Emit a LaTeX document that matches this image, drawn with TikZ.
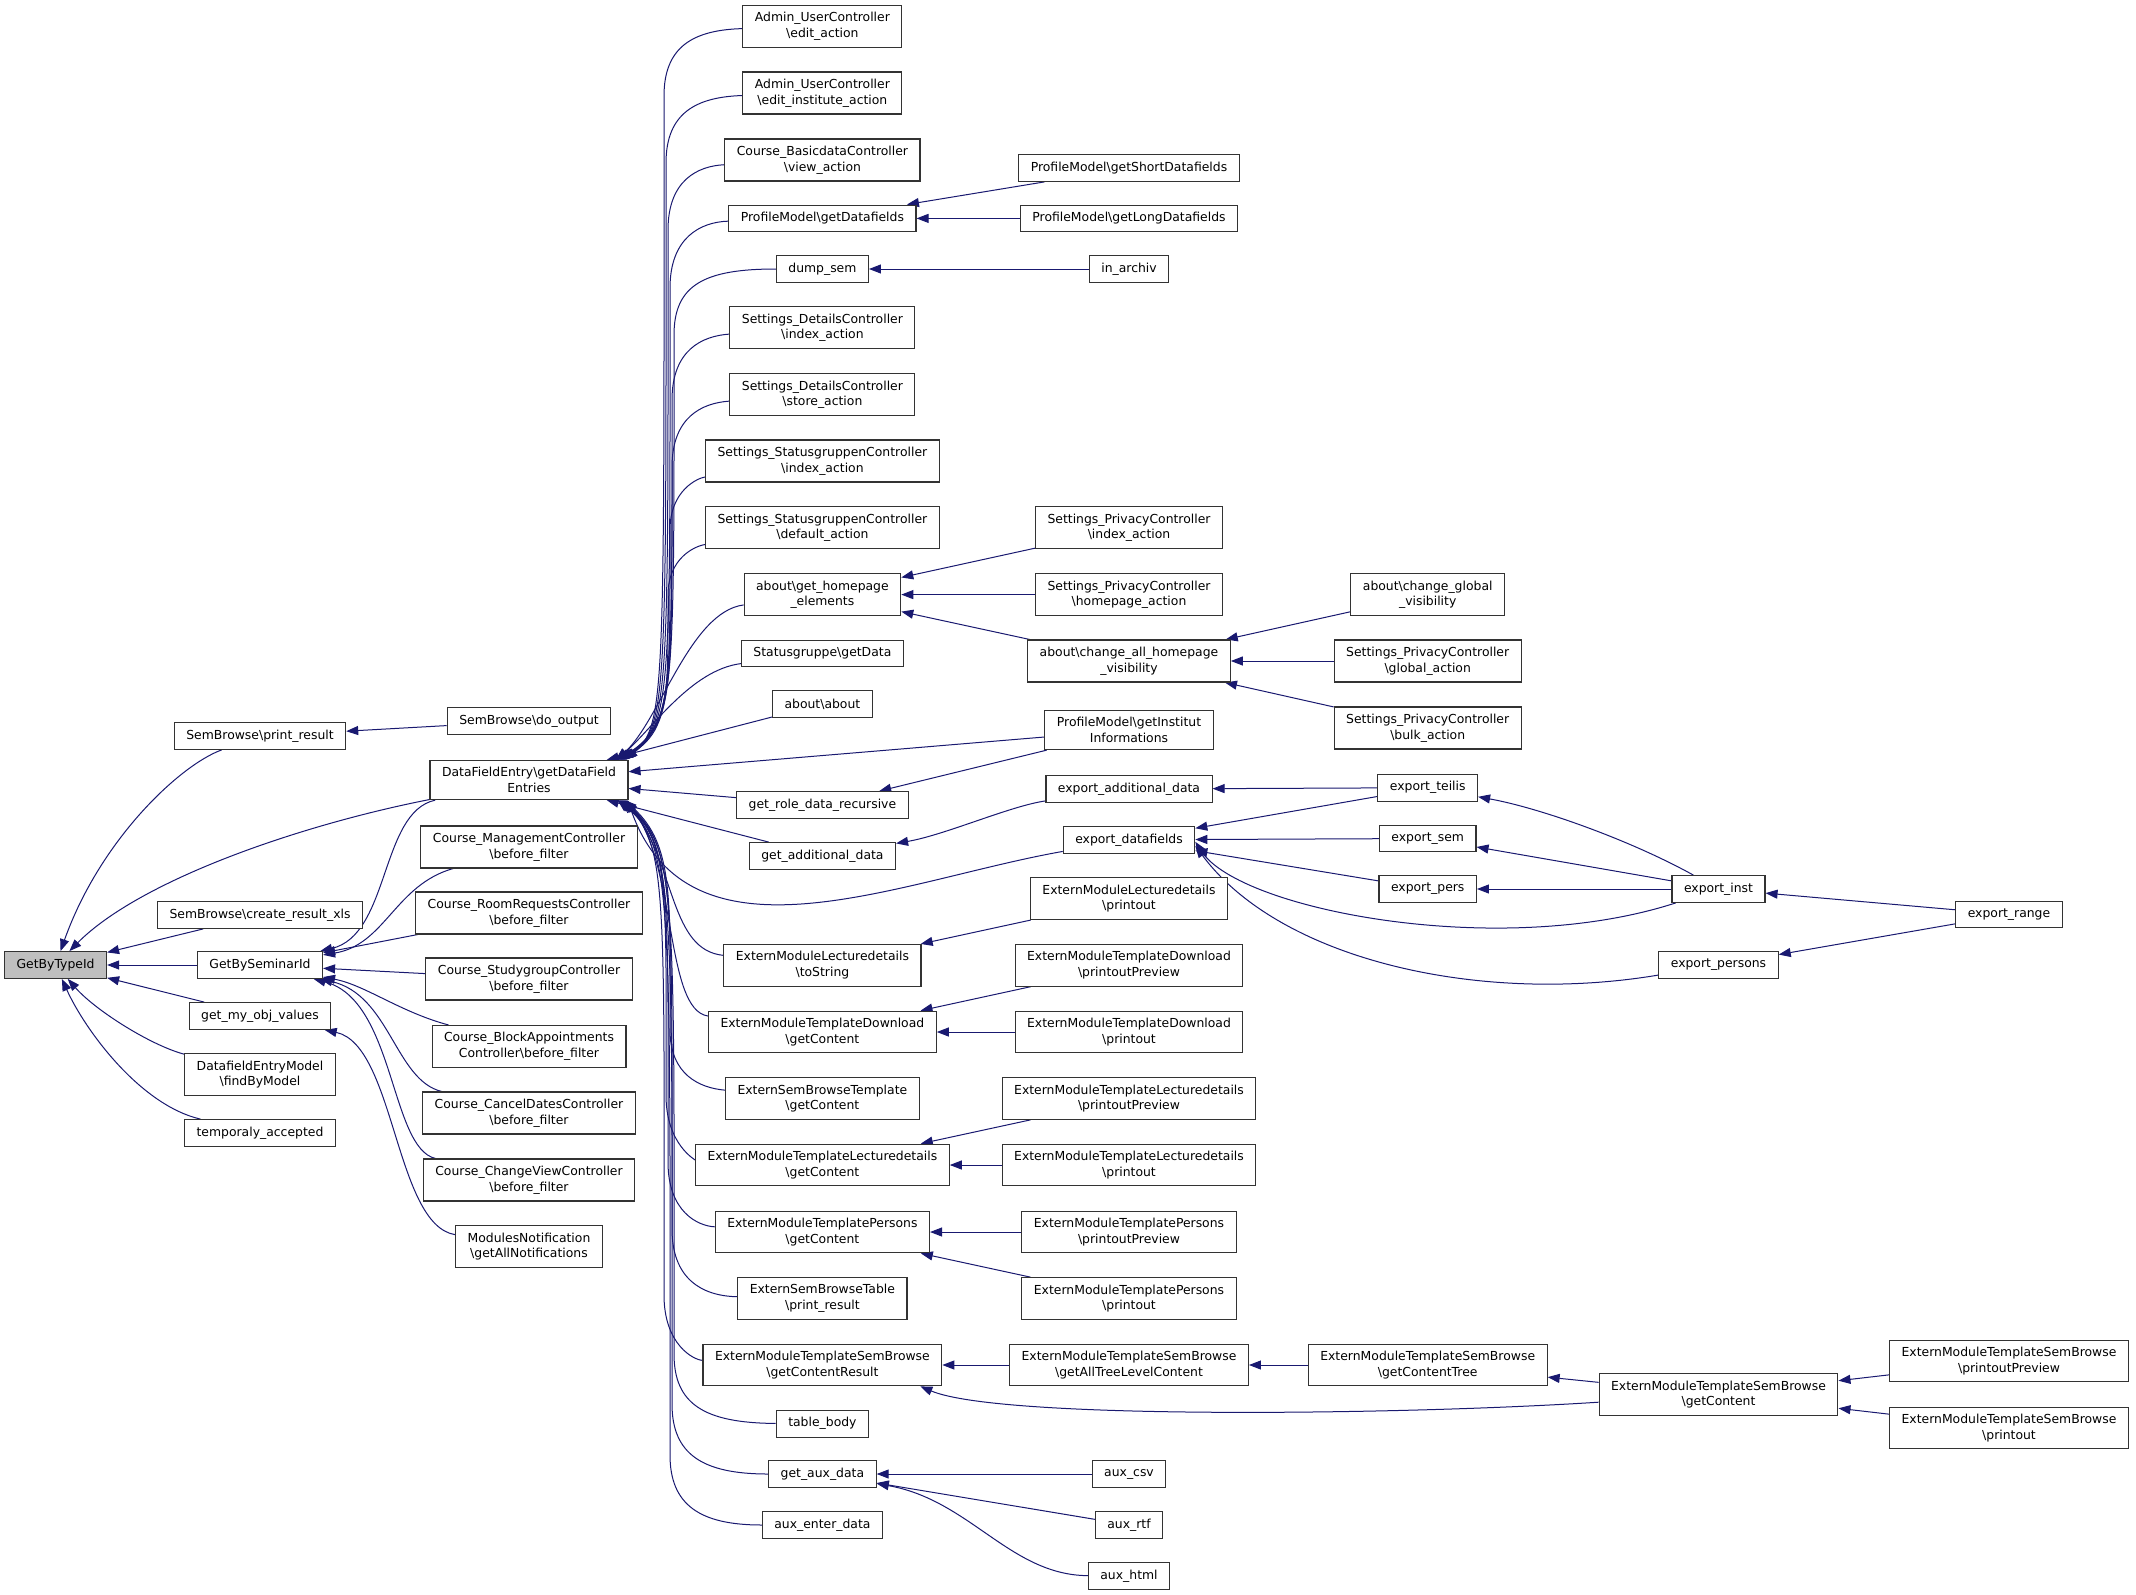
\documentclass[tikz,border=0pt]{standalone}
\usepackage{fontspec}
\setmainfont{DejaVu Sans}
\usetikzlibrary{arrows.meta,backgrounds}
\definecolor{edgeblue}{HTML}{191970}
\newcommand{\bsl}{\textbackslash}

\begin{document}
\begin{tikzpicture}[x=1pt,y=-1pt,>={Triangle[length=12pt,width=9pt]},
func node/.style={draw=black!80,fill=white,line width=1.1pt,inner xsep=12pt,inner ysep=7pt,
  minimum height=26.7pt,align=center,font=\fontsize{12.4}{15.6}\selectfont},
start node/.style={func node,fill=black!25},
call/.style={->,draw=edgeblue,line width=1pt},
every edge/.style={call}]

%Callee
\node[start node] (gettype) at (55.6,965) {GetByTypeId};

%Level 1
\node[func node] (printres) at (260,736) {SemBrowse\bsl print\_result};
\node[func node] (xls) at (260,915) {SemBrowse\bsl create\_result\_xls};
\node[func node] (seminar) at (260,965) {GetBySeminarId};
\node[func node] (objval) at (260,1016) {get\_my\_obj\_values};
\node[func node] (findmodel) at (260,1074.5) {DatafieldEntryModel\\\bsl findByModel};
\node[func node] (tempacc) at (260,1133) {temporaly\_accepted};

%Level 2
\node[func node] (dooutput) at (529,721) {SemBrowse\bsl do\_output};
\node[func node] (dfe) at (529,780) {DataFieldEntry\bsl getDataField\\Entries};
\node[func node] (cmanage) at (529,847) {Course\_ManagementController\\\bsl before\_filter};
\node[func node] (croom) at (529,913) {Course\_RoomRequestsController\\\bsl before\_filter};
\node[func node] (cstudy) at (529,979) {Course\_StudygroupController\\\bsl before\_filter};
\node[func node] (cblock) at (529,1046.5) {Course\_BlockAppointments\\Controller\bsl before\_filter};
\node[func node] (ccancel) at (529,1113) {Course\_CancelDatesController\\\bsl before\_filter};
\node[func node] (cview) at (529,1180) {Course\_ChangeViewController\\\bsl before\_filter};
\node[func node] (modnote) at (529,1246.5) {ModulesNotification\\\bsl getAllNotifications};

%Level 3
\node[func node] (adminedit) at (822.4,26.3) {Admin\_UserController\\\bsl edit\_action};
\node[func node] (admininst) at (822.4,93) {Admin\_UserController\\\bsl edit\_institute\_action};
\node[func node] (basicdata) at (822.4,160) {Course\_BasicdataController\\\bsl view\_action};
\node[func node] (getdf) at (822.4,218.4) {ProfileModel\bsl getDatafields};
\node[func node] (dumpsem) at (822.4,269) {dump\_sem};
\node[func node] (sdindex) at (822.4,327.7) {Settings\_DetailsController\\\bsl index\_action};
\node[func node] (sdstore) at (822.4,394.8) {Settings\_DetailsController\\\bsl store\_action};
\node[func node] (sgindex) at (822.4,461) {Settings\_StatusgruppenController\\\bsl index\_action};
\node[func node] (sgdefault) at (822.4,527.7) {Settings\_StatusgruppenController\\\bsl default\_action};
\node[func node] (homeel) at (822.4,594.6) {about\bsl get\_homepage\\\_elements};
\node[func node] (sggetdata) at (822.4,653.4) {Statusgruppe\bsl getData};
\node[func node] (aboutabout) at (822.4,704) {about\bsl about};
\node[func node] (roledata) at (822.4,805) {get\_role\_data\_recursive};
\node[func node] (adddata) at (822.4,856) {get\_additional\_data};
\node[func node] (lecstring) at (822.4,965.3) {ExternModuleLecturedetails\\\bsl toString};
\node[func node] (dlcontent) at (822.4,1032) {ExternModuleTemplateDownload\\\bsl getContent};
\node[func node] (sbtcontent) at (822.4,1098.5) {ExternSemBrowseTemplate\\\bsl getContent};
\node[func node] (tlcontent) at (822.4,1165) {ExternModuleTemplateLecturedetails\\\bsl getContent};
\node[func node] (pscontent) at (822.4,1232) {ExternModuleTemplatePersons\\\bsl getContent};
\node[func node] (sbtable) at (822.4,1298.5) {ExternSemBrowseTable\\\bsl print\_result};
\node[func node] (sbresult) at (822.4,1365) {ExternModuleTemplateSemBrowse\\\bsl getContentResult};
\node[func node] (tablebody) at (822.4,1423.7) {table\_body};
\node[func node] (auxdata) at (822.4,1474) {get\_aux\_data};
\node[func node] (auxenter) at (822.4,1525) {aux\_enter\_data};

%Level 4
\node[func node] (getshort) at (1129,168) {ProfileModel\bsl getShortDatafields};
\node[func node] (getlong) at (1129,218.4) {ProfileModel\bsl getLongDatafields};
\node[func node] (inarchiv) at (1129,269) {in\_archiv};
\node[func node] (pvindex) at (1129,527.7) {Settings\_PrivacyController\\\bsl index\_action};
\node[func node] (pvhome) at (1129,594.6) {Settings\_PrivacyController\\\bsl homepage\_action};
\node[func node] (chall) at (1129,661) {about\bsl change\_all\_homepage\\\_visibility};
\node[func node] (instinfo) at (1129,730) {ProfileModel\bsl getInstitut\\Informations};
\node[func node] (expadd) at (1129,789) {export\_additional\_data};
\node[func node] (expdf) at (1129,839.8) {export\_datafields};
\node[func node] (lecprint) at (1129,898.7) {ExternModuleLecturedetails\\\bsl printout};
\node[func node] (dlpreview) at (1129,965.3) {ExternModuleTemplateDownload\\\bsl printoutPreview};
\node[func node] (dlprint) at (1129,1032) {ExternModuleTemplateDownload\\\bsl printout};
\node[func node] (tlpreview) at (1129,1098.5) {ExternModuleTemplateLecturedetails\\\bsl printoutPreview};
\node[func node] (tlprint) at (1129,1165) {ExternModuleTemplateLecturedetails\\\bsl printout};
\node[func node] (pspreview) at (1129,1232) {ExternModuleTemplatePersons\\\bsl printoutPreview};
\node[func node] (psprint) at (1129,1298.5) {ExternModuleTemplatePersons\\\bsl printout};
\node[func node] (sbtree) at (1129,1365) {ExternModuleTemplateSemBrowse\\\bsl getAllTreeLevelContent};
\node[func node] (auxcsv) at (1129,1474) {aux\_csv};
\node[func node] (auxrtf) at (1129,1525) {aux\_rtf};
\node[func node] (auxhtml) at (1129,1576) {aux\_html};

%Level 5
\node[func node] (chglobal) at (1427.7,594.6) {about\bsl change\_global\\\_visibility};
\node[func node] (pvglobal) at (1427.7,661) {Settings\_PrivacyController\\\bsl global\_action};
\node[func node] (pvbulk) at (1427.7,728) {Settings\_PrivacyController\\\bsl bulk\_action};
\node[func node] (expteilis) at (1427.7,787.7) {export\_teilis};
\node[func node] (expsem) at (1427.7,838.5) {export\_sem};
\node[func node] (exppers) at (1427.7,889) {export\_pers};
\node[func node] (sbctree) at (1427.7,1365) {ExternModuleTemplateSemBrowse\\\bsl getContentTree};

%Level 6
\node[func node] (expinst) at (1718.5,889) {export\_inst};
\node[func node] (exppersons) at (1718.5,965) {export\_persons};
\node[func node] (sbcontent) at (1718.5,1394.5) {ExternModuleTemplateSemBrowse\\\bsl getContent};

%Level 7
\node[func node] (exprange) at (2009,914.5) {export\_range};
\node[func node] (sbpreview) at (2009,1361) {ExternModuleTemplateSemBrowse\\\bsl printoutPreview};
\node[func node] (sbprint) at (2009,1428) {ExternModuleTemplateSemBrowse\\\bsl printout};

\begin{scope}[on background layer]
\path[use as bounding box,fill=white] (0,0) rectangle (2136,1595);

%Straight calls
\path
(xls)        edge (gettype)
(seminar)    edge (gettype)
(objval)     edge (gettype)
(dooutput)   edge (printres)
(croom)      edge (seminar)
(cstudy)     edge (seminar)
(aboutabout) edge (dfe)
(instinfo)   edge (dfe)
             edge (roledata)
(roledata)   edge (dfe)
(adddata)    edge (dfe)
(getshort)   edge (getdf)
(getlong)    edge (getdf)
(inarchiv)   edge (dumpsem)
(pvindex)    edge (homeel)
(pvhome)     edge (homeel)
(chall)      edge (homeel)
(chglobal)   edge (chall)
(pvglobal)   edge (chall)
(pvbulk)     edge (chall)
(expteilis)  edge (expadd)
             edge (expdf)
(expsem)     edge (expdf)
(exppers)    edge (expdf)
(expinst)    edge (expsem)
             edge (exppers)
(exprange)   edge (expinst)
             edge (exppersons)
(lecprint)   edge (lecstring)
(dlpreview)  edge (dlcontent)
(dlprint)    edge (dlcontent)
(tlpreview)  edge (tlcontent)
(tlprint)    edge (tlcontent)
(pspreview)  edge (pscontent)
(psprint)    edge (pscontent)
(sbtree)     edge (sbresult)
(sbctree)    edge (sbtree)
(sbcontent)  edge (sbctree)
(sbpreview)  edge (sbcontent)
(sbprint)    edge (sbcontent)
(auxcsv)     edge (auxdata)
(auxrtf)     edge (auxdata)
;

%Curved calls, left part
\draw[call] (printres) .. controls (180,765) and (100,840) .. (gettype);
\draw[call] (dfe) .. controls (300,825) and (140,880) .. (gettype);
\draw[call] (findmodel) .. controls (150,1045) and (95,1010) .. (gettype);
\draw[call] (tempacc) .. controls (140,1105) and (85,1030) .. (gettype);
\draw[call] (dfe) .. controls (380,812) and (390,935) .. (seminar);
\draw[call] (cmanage) .. controls (395,885) and (385,945) .. (seminar);
\draw[call] (cblock) .. controls (400,1012) and (365,985) .. (seminar);
\draw[call] (ccancel) .. controls (395,1080) and (390,995) .. (seminar);
\draw[call] (cview) .. controls (390,1148) and (395,1000) .. (seminar);
\draw[call] (modnote) .. controls (395,1225) and (395,1045) .. (objval);

%Curved calls into DataFieldEntry, from above
\draw[call] (adminedit) .. controls (694,30) and (664,46) .. (664,96)
  .. controls (664,690) and (666,725) .. ([xshift=-3pt]dfe.north east);
\draw[call] (admininst) .. controls (696,97) and (666,113) .. (666,163)
  .. controls (666,690) and (668,725) .. ([xshift=-4pt]dfe.north east);
\draw[call] (basicdata) .. controls (698,166) and (668,180) .. (668,230)
  .. controls (668,690) and (670,725) .. ([xshift=-5pt]dfe.north east);
\draw[call] (getdf) .. controls (700,222) and (670,238) .. (670,288)
  .. controls (670,690) and (672,725) .. ([xshift=-6pt]dfe.north east);
\draw[call] (dumpsem) .. controls (704,269) and (674,285) .. (674,335)
  .. controls (674,690) and (676,725) .. ([xshift=-7pt]dfe.north east);
\draw[call] (sdindex) .. controls (702,336) and (672,350) .. (672,400)
  .. controls (672,690) and (674,725) .. ([xshift=-8pt]dfe.north east);
\draw[call] (sdstore) .. controls (702,403) and (672,417) .. (672,467)
  .. controls (672,690) and (674,725) .. ([xshift=-9pt]dfe.north east);
\draw[call] (sgindex) .. controls (698,478) and (670,490) .. (670,530)
  .. controls (670,690) and (672,725) .. ([xshift=-10pt]dfe.north east);
\draw[call] (sgdefault) .. controls (695,546) and (668,558) .. (668,595)
  .. controls (668,695) and (670,728) .. ([xshift=-11pt]dfe.north east);
\draw[call] (homeel) .. controls (690,612) and (660,720) .. ([xshift=-12pt]dfe.north east);
\draw[call] (sggetdata) .. controls (690,670) and (650,732) .. ([xshift=-13pt]dfe.north east);

%Curved calls into DataFieldEntry, from below
\draw[call] (lecstring) .. controls (670,950) and (676,868) .. ([xshift=-2pt]dfe.south east);
\draw[call] (dlcontent) .. controls (665,1010) and (677,866) .. ([xshift=-3pt]dfe.south east);
\draw[call] (sbtcontent) .. controls (700,1088) and (670,1075) .. (670,1030)
  .. controls (670,900) and (674,845) .. ([xshift=-4pt]dfe.south east);
\draw[call] (tlcontent) .. controls (696,1160) and (666,1145) .. (666,1095)
  .. controls (666,900) and (670,845) .. ([xshift=-5pt]dfe.south east);
\draw[call] (pscontent) .. controls (698,1226) and (668,1212) .. (668,1162)
  .. controls (668,900) and (672,845) .. ([xshift=-6pt]dfe.south east);
\draw[call] (sbtable) .. controls (702,1296) and (672,1279) .. (672,1229)
  .. controls (672,900) and (676,845) .. ([xshift=-7pt]dfe.south east);
\draw[call] (sbresult) .. controls (694,1360) and (664,1345) .. (664,1295)
  .. controls (664,900) and (668,845) .. ([xshift=-8pt]dfe.south east);
\draw[call] (tablebody) .. controls (704,1423) and (674,1404) .. (674,1354)
  .. controls (674,900) and (678,845) .. ([xshift=-9pt]dfe.south east);
\draw[call] (auxdata) .. controls (702,1474) and (672,1454) .. (672,1404)
  .. controls (672,900) and (676,845) .. ([xshift=-10pt]dfe.south east);
\draw[call] (auxenter) .. controls (700,1525) and (670,1505) .. (670,1455)
  .. controls (670,900) and (674,845) .. ([xshift=-11pt]dfe.south east);
\draw[call] (expdf) .. controls (900,880) and (690,975) .. ([xshift=-1pt]dfe.south east);

%Curved calls, right part
\draw[call] (expadd) .. controls (1010,806) and (945,835) .. (adddata);
\draw[call] (expinst) .. controls (1500,960) and (1240,910) .. ([yshift=-2pt]expdf.east);
\draw[call] (exppersons) .. controls (1480,1005) and (1280,960) .. ([yshift=-6pt]expdf.east);
\draw[call] (expinst) .. controls (1630,840) and (1540,808) .. (expteilis);
\draw[call] (sbcontent) .. controls (1400,1415) and (1000,1420) .. ([xshift=-22pt]sbresult.south east);
\draw[call] (auxhtml) .. controls (1010,1575) and (970,1500) .. (auxdata);
\end{scope}
\end{tikzpicture}
\end{document}
